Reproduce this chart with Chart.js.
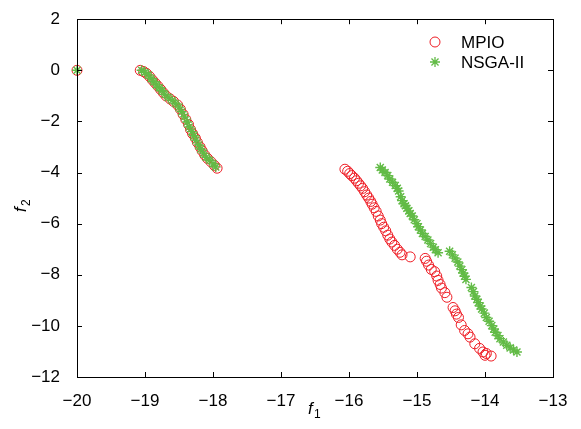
<!DOCTYPE html>
<html>
<head>
<meta charset="UTF-8" />
<title>MPIO vs NSGA-II</title>
<script src="https://cdn.jsdelivr.net/npm/chart.js"></script>
<style>
  html, body { margin: 0; padding: 0; background: #fff; }
  #wrap { width: 581px; height: 429px; }
</style>
</head>
<body>
<div id="wrap"><canvas id="c" width="581" height="429"></canvas></div>
<script>
  // f1 / f2 values
  const mpioF1 = [-20,
    -19.07, -19.02, -18.98, -18.93, -18.89, -18.85, -18.81, -18.77, -18.73, -18.69,
    -18.63, -18.58, -18.52, -18.48, -18.44, -18.40, -18.36, -18.33, -18.30, -18.26,
    -18.23, -18.19, -18.16, -18.12, -18.08, -18.03, -17.98, -17.94,
    -16.06, -16.02, -15.99, -15.96, -15.92, -15.89, -15.86, -15.83, -15.80, -15.77,
    -15.74, -15.71, -15.68, -15.66, -15.63, -15.60, -15.57, -15.54, -15.52, -15.49,
    -15.46, -15.43, -15.40, -15.37, -15.33, -15.29, -15.25, -15.22, -15.10,
    -14.88, -14.86, -14.83, -14.79, -14.74, -14.71, -14.69, -14.66, -14.64, -14.59,
    -14.56, -14.47, -14.44, -14.42, -14.39, -14.35, -14.30, -14.25, -14.22, -14.15,
    -14.08, -14.03, -13.98, -14.00, -13.91];
  const mpioF2 = [0,
    0.00, -0.05, -0.12, -0.25, -0.38, -0.50, -0.62, -0.75, -0.88, -1.00,
    -1.12, -1.22, -1.36, -1.52, -1.72, -1.92, -2.12, -2.32, -2.48, -2.65,
    -2.82, -3.00, -3.15, -3.32, -3.45, -3.58, -3.72, -3.83,
    -3.87, -3.95, -4.04, -4.12, -4.22, -4.32, -4.42, -4.52, -4.62, -4.75,
    -4.88, -5.00, -5.13, -5.24, -5.38, -5.52, -5.70, -5.86, -6.00, -6.14,
    -6.28, -6.45, -6.60, -6.72, -6.85, -7.00, -7.12, -7.22, -7.30,
    -7.36, -7.47, -7.62, -7.79, -7.88, -8.05, -8.22, -8.38, -8.52, -8.70,
    -8.88, -9.28, -9.41, -9.54, -9.67, -9.96, -10.18, -10.31, -10.44, -10.70,
    -10.88, -11.02, -11.08, -11.15, -11.18];

  const nsgaF1 = [-20,
    -19.05, -19.00, -18.95, -18.91, -18.87, -18.83, -18.79, -18.75, -18.71, -18.66,
    -18.60, -18.55, -18.50, -18.46, -18.42, -18.38, -18.35, -18.31, -18.28, -18.25,
    -18.21, -18.18, -18.14, -18.10, -18.05, -18.00, -17.96,
    -15.54, -15.51, -15.47, -15.43, -15.40, -15.36, -15.32, -15.29, -15.27, -15.24,
    -15.22, -15.19, -15.17, -15.15, -15.12, -15.10, -15.07, -15.04, -15.00, -14.98,
    -14.95, -14.92, -14.88, -14.84, -14.80, -14.76, -14.73, -14.69,
    -14.52, -14.48, -14.44, -14.40, -14.37, -14.34, -14.32, -14.30, -14.28, -14.20,
    -14.17, -14.15, -14.12, -14.10, -14.07, -14.05, -14.01, -13.98, -13.94, -13.90,
    -13.87, -13.85, -13.81, -13.78, -13.73, -13.68, -13.63, -13.58, -13.53];
  const nsgaF2 = [0,
    0.00, -0.08, -0.18, -0.32, -0.45, -0.57, -0.68, -0.80, -0.94, -1.06,
    -1.17, -1.30, -1.44, -1.62, -1.82, -2.02, -2.22, -2.40, -2.56, -2.73,
    -2.92, -3.08, -3.24, -3.40, -3.52, -3.66, -3.78,
    -3.80, -3.90, -4.00, -4.12, -4.25, -4.38, -4.51, -4.62, -4.72, -4.95,
    -5.10, -5.22, -5.30, -5.40, -5.50, -5.60, -5.70, -5.85, -6.00, -6.12,
    -6.25, -6.38, -6.50, -6.64, -6.78, -6.92, -7.02, -7.14,
    -7.08, -7.22, -7.35, -7.50, -7.66, -7.80, -7.93, -8.06, -8.18, -8.50,
    -8.66, -8.83, -8.96, -9.09, -9.22, -9.34, -9.50, -9.67, -9.82, -9.99,
    -10.12, -10.25, -10.38, -10.50, -10.63, -10.76, -10.86, -10.94, -11.02];

  const seriesNames = ["MPIO", "NSGA-II"];
  const xTicks = [-20, -19, -18, -17, -16, -15, -14, -13];
  const yTicks = [2, 0, -2, -4, -6, -8, -10, -12];

  const red = "#ee1c24";
  const green = "#62bb46";
  const FONT = "'Liberation Sans', Arial, sans-serif";

  const pts = (xs, ys) => xs.map((x, i) => ({ x: x, y: ys[i] }));
  const minus = v => String(v).replace("-", "\u2212");

  // box, inward ticks, axis titles and legend
  const frame = {
    id: "frame",
    afterDraw(chart) {
      const { ctx, chartArea: a, scales } = chart;
      ctx.save();
      ctx.strokeStyle = "#000";
      ctx.lineWidth = 1;
      ctx.strokeRect(Math.round(a.left) + 0.5, Math.round(a.top) + 0.5,
        Math.round(a.right - a.left), Math.round(a.bottom - a.top));
      ctx.beginPath();
      xTicks.forEach(v => {
        const px = Math.round(scales.x.getPixelForValue(v)) + 0.5;
        ctx.moveTo(px, a.bottom); ctx.lineTo(px, a.bottom - 5);
        ctx.moveTo(px, a.top); ctx.lineTo(px, a.top + 5);
      });
      yTicks.forEach(v => {
        const py = Math.round(scales.y.getPixelForValue(v)) + 0.5;
        ctx.moveTo(a.left, py); ctx.lineTo(a.left + 5, py);
        ctx.moveTo(a.right, py); ctx.lineTo(a.right - 5, py);
      });
      ctx.stroke();

      // axis titles, f with subscript
      ctx.fillStyle = "#000";
      ctx.textBaseline = "alphabetic";
      ctx.textAlign = "left";
      ctx.font = "italic 17px " + FONT;
      ctx.fillText("f", 308, 414);
      ctx.font = "12px " + FONT;
      ctx.fillText("1", 314, 418);

      ctx.save();
      ctx.translate(26, 212);
      ctx.rotate(-Math.PI / 2);
      ctx.font = "italic 17px " + FONT;
      ctx.fillText("f", 0, 0);
      ctx.font = "12px " + FONT;
      ctx.fillText("2", 6, 4);
      ctx.restore();

      // legend
      ctx.lineWidth = 1;
      ctx.strokeStyle = red;
      ctx.beginPath();
      ctx.arc(435, 42, 5, 0, Math.PI * 2);
      ctx.stroke();
      ctx.strokeStyle = green;
      ctx.lineWidth = 1.3;
      Chart.helpers.drawPoint(ctx, { pointStyle: "star", radius: 5, rotation: 0, borderWidth: 1.3 }, 435, 62);
      ctx.font = "17px " + FONT;
      ctx.textBaseline = "middle";
      ctx.fillStyle = "#000";
      ctx.fillText(seriesNames[0], 461, 43);
      ctx.fillText(seriesNames[1], 461, 63);
      ctx.restore();
    }
  };

  new Chart(document.getElementById("c"), {
    type: "scatter",
    data: {
      datasets: [
        {
          label: seriesNames[0],
          data: pts(mpioF1, mpioF2),
          pointStyle: "circle",
          pointRadius: 5,
          pointBorderWidth: 1,
          borderColor: red,
          backgroundColor: "rgba(0,0,0,0)",
          clip: false,
          order: 1
        },
        {
          label: seriesNames[1],
          data: pts(nsgaF1, nsgaF2),
          pointStyle: "star",
          pointRadius: 5,
          pointBorderWidth: 1.4,
          borderColor: green,
          backgroundColor: green,
          clip: false,
          order: 0
        }
      ]
    },
    options: {
      responsive: false,
      animation: false,
      layout: { padding: { top: 15, right: 28, left: 0, bottom: 0 } },
      plugins: { legend: { display: false }, tooltip: { enabled: false } },
      scales: {
        x: {
          type: "linear", min: -20, max: -13,
          grid: { display: false }, border: { display: false },
          afterFit: s => { s.height = 52; },
          afterBuildTicks: s => { s.ticks = xTicks.map(v => ({ value: v })); },
          ticks: { color: "#000", padding: 6, maxRotation: 0, font: { family: FONT, size: 17 },
            callback: v => minus(v) }
        },
        y: {
          type: "linear", min: -12, max: 2,
          grid: { display: false }, border: { display: false },
          afterFit: s => { s.width = 77; },
          afterBuildTicks: s => { s.ticks = yTicks.map(v => ({ value: v })); },
          ticks: { color: "#000", padding: 9, font: { family: FONT, size: 17 },
            callback: v => minus(v) }
        }
      }
    },
    plugins: [frame]
  });
</script>
</body>
</html>
